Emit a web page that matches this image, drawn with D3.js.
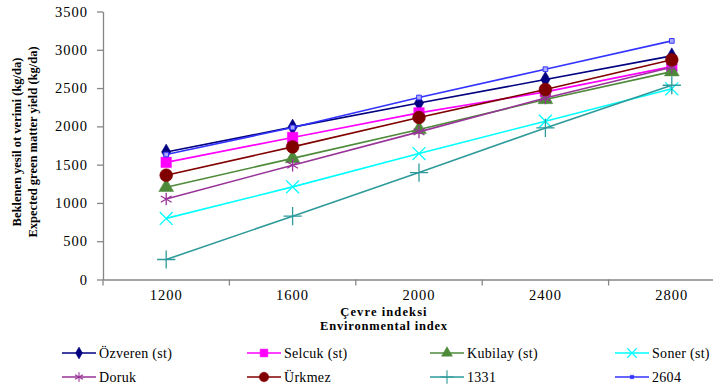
<!DOCTYPE html>
<html>
<head>
<meta charset="utf-8">
<script src="https://cdn.jsdelivr.net/npm/d3@7"></script>
<style>
  html, body { margin: 0; padding: 0; background: #fff; overflow: hidden; }
  svg { display: block; }
  svg text { font-family: 'Liberation Serif', 'Times New Roman', serif; }
</style>
</head>
<body>
<svg id="chart" width="713" height="387"></svg>
<script>
const categories = ["1200", "1600", "2000", "2400", "2800"];
const yTicks = [0, 500, 1000, 1500, 2000, 2500, 3000, 3500];

const ozveren = [1665, 1990, 2305, 2612, 2920];
const selcuk  = [1530, 1855, 2176, 2450, 2780];
const kubilay = [1205, 1582, 1960, 2352, 2715];
const soner   = [798, 1210, 1645, 2067, 2490];
const doruk   = [1050, 1493, 1928, 2370, 2772];
const urkmez  = [1362, 1732, 2116, 2481, 2870];
const s1331   = [261, 827, 1397, 1980, 2537];
const s2604   = [1632, 1985, 2377, 2746, 3116];

const seriesNames = ["Özveren (st)", "Selcuk (st)", "Kubilay (st)", "Soner (st)", "Doruk", "Ürkmez", "1331", "2604"];
const seriesValues = [ozveren, selcuk, kubilay, soner, doruk, urkmez, s1331, s2604];

const yTitle1 = "Beklenen yesil ot verimi (kg/da)";
const yTitle2 = "Expected green matter yield (kg/da)";
const xTitle1 = "Çevre indeksi";
const xTitle2 = "Environmental index";

const styles = [
  { color: "#000080", sym: d3.symbolDiamond, size: 75, fill: true },
  { color: "#FF00FF", sym: d3.symbolSquare, size: 110, fill: true },
  { color: "#4E8A3A", sym: d3.symbolTriangle, size: 95, fill: true },
  { color: "#00FFFF", sym: d3.symbolTimes, size: 110, fill: false },
  { color: "#993399", sym: d3.symbolAsterisk, size: 110, fill: false },
  { color: "#800000", sym: d3.symbolCircle, size: 130, fill: true },
  { color: "#2E9A9A", sym: d3.symbolPlus, size: 110, fill: false },
  { color: "#3333FF", sym: d3.symbolSquare, size: 22, fill: true, fillColor: "#AAAAFF" }
];

const FONT = "'Liberation Serif', 'Times New Roman', serif";
const svg = d3.select("#chart");
const plotLeft = 103, plotTop = 11.5, plotBottom = 279.5;

const x = d3.scaleBand().domain(categories).range([plotLeft, 735]);
const y = d3.scaleLinear().domain([0, 3500]).range([plotBottom, plotTop]);

const axisColor = "#868686";

// Y axis
const yAxis = svg.append("g").attr("transform", `translate(${plotLeft},0)`)
  .call(d3.axisLeft(y).tickValues(yTicks).tickFormat(d3.format("d")).tickSize(6).tickSizeOuter(0).tickPadding(9));
yAxis.attr("font-family", FONT);
yAxis.select(".domain").attr("stroke", axisColor).attr("stroke-width", 1.3);
yAxis.selectAll(".tick line").attr("stroke", axisColor).attr("stroke-width", 1.3);
yAxis.selectAll(".tick text").attr("fill", "#000").attr("font-family", FONT).attr("font-size", "14.5px")
  .style("letter-spacing", "1px");

// X axis
const xAxis = svg.append("g").attr("transform", `translate(0,${plotBottom})`)
  .call(d3.axisBottom(x).tickSize(0).tickPadding(10));
xAxis.attr("font-family", FONT);
xAxis.select(".domain").attr("stroke", axisColor).attr("stroke-width", 1.3);
xAxis.selectAll(".tick text").attr("fill", "#000").attr("font-family", FONT).attr("font-size", "14.5px")
  .style("letter-spacing", "1px");
// tick marks at band boundaries
const bounds = categories.map(c => x(c)).concat([x(categories[categories.length - 1]) + x.bandwidth()]);
svg.append("g").selectAll("line").data(bounds).join("line")
  .attr("x1", d => d).attr("x2", d => d)
  .attr("y1", plotBottom).attr("y2", plotBottom + 6)
  .attr("stroke", axisColor).attr("stroke-width", 1.3);

// Lines and markers
const line = d3.line().x((d, i) => x(categories[i]) + x.bandwidth() / 2).y(d => y(d));

seriesValues.forEach((vals, si) => {
  const st = styles[si];
  const g = svg.append("g");
  g.append("path").datum(vals).attr("d", line)
    .attr("fill", "none").attr("stroke", st.color).attr("stroke-width", 1.6);
  g.selectAll("path.m").data(vals).join("path").attr("class", "m")
    .attr("transform", (d, i) => `translate(${x(categories[i]) + x.bandwidth() / 2},${y(d)})`)
    .attr("d", d3.symbol().type(st.sym).size(st.size))
    .attr("fill", st.fill ? (st.fillColor || st.color) : "none")
    .attr("stroke", st.color)
    .attr("stroke-width", st.fill ? (st.fillColor ? 1 : 0.5) : 1.3);
});

// Axis titles
svg.append("text").attr("transform", "translate(21,142) rotate(-90)")
  .attr("text-anchor", "middle").attr("font-family", FONT).attr("font-weight", "bold").attr("font-size", "12.5px")
  .text(yTitle1);
svg.append("text").attr("transform", "translate(37,142) rotate(-90)")
  .attr("text-anchor", "middle").attr("font-family", FONT).attr("font-weight", "bold").attr("font-size", "12.5px")
  .text(yTitle2);
svg.append("text").attr("x", 384).attr("y", 316).attr("text-anchor", "middle")
  .attr("font-family", FONT).attr("font-weight", "bold").attr("font-size", "12.5px")
  .style("letter-spacing", "1.1px").text(xTitle1);
svg.append("text").attr("x", 384).attr("y", 330).attr("text-anchor", "middle")
  .attr("font-family", FONT).attr("font-weight", "bold").attr("font-size", "12.5px")
  .style("letter-spacing", "0.8px").text(xTitle2);

// Legend
const colX = [62, 247, 430, 615];
const rowY = [353, 377];
const legend = svg.append("g");
seriesNames.forEach((name, i) => {
  const st = styles[i];
  const lx = colX[i % 4], ly = rowY[Math.floor(i / 4)];
  const g = legend.append("g");
  g.append("line").attr("x1", lx).attr("x2", lx + 34).attr("y1", ly).attr("y2", ly)
    .attr("stroke", st.color).attr("stroke-width", 1.6);
  g.append("path").attr("transform", `translate(${lx + 17},${ly})`)
    .attr("d", d3.symbol().type(st.sym).size(st.size * 0.55))
    .attr("fill", st.fill ? st.color : "none")
    .attr("stroke", st.color).attr("stroke-width", st.fill ? 0.5 : 1.1);
  g.append("text").attr("x", lx + 37).attr("y", ly + 5)
    .attr("font-family", FONT).attr("font-size", "14px").style("letter-spacing", "0.3px").text(name);
});
</script>
</body>
</html>
